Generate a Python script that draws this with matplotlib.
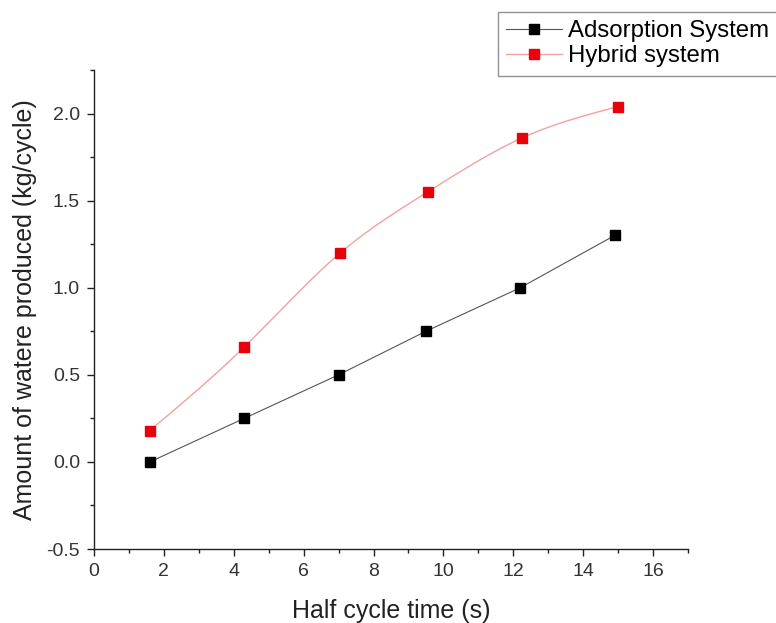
import numpy as np
import matplotlib
matplotlib.use("Agg")
import matplotlib.pyplot as plt
from matplotlib.ticker import MultipleLocator

plt.rcParams['font.family'] = ['Liberation Sans', 'DejaVu Sans']

x_ads = [1.6, 4.3, 7.0, 9.5, 12.2, 14.9]
y_ads = [0.0, 0.25, 0.50, 0.75, 1.0, 1.30]
x_hyb = [1.6, 4.3, 7.05, 9.55, 12.25, 15.0]
y_hyb = [0.18, 0.66, 1.20, 1.55, 1.86, 2.04]


def natural_spline(x, y, n=200):
    x = np.asarray(x, float); y = np.asarray(y, float)
    m = len(x)
    h = np.diff(x)
    A = np.zeros((m, m)); b = np.zeros(m)
    A[0, 0] = 1; A[-1, -1] = 1
    for i in range(1, m - 1):
        A[i, i - 1] = h[i - 1]
        A[i, i] = 2 * (h[i - 1] + h[i])
        A[i, i + 1] = h[i]
        b[i] = 3 * ((y[i + 1] - y[i]) / h[i] - (y[i] - y[i - 1]) / h[i - 1])
    c = np.linalg.solve(A, b)
    xs = np.linspace(x[0], x[-1], n)
    ys = np.empty_like(xs)
    for k, xv in enumerate(xs):
        i = min(np.searchsorted(x, xv, side='right') - 1, m - 2)
        bb = (y[i + 1] - y[i]) / h[i] - h[i] * (2 * c[i] + c[i + 1]) / 3
        d = (c[i + 1] - c[i]) / (3 * h[i])
        t = xv - x[i]
        ys[k] = y[i] + bb * t + c[i] * t ** 2 + d * t ** 3
    return xs, ys


fig = plt.figure(figsize=(7.76, 6.23), dpi=100)
ax = fig.add_axes([94 / 776, 1 - 549 / 623, (688 - 94) / 776, (549 - 70) / 623])

ax.plot(x_ads, y_ads, color='#555555', lw=0.8, zorder=2)
ax.plot(x_ads, y_ads, 's', color='black', ms=7, zorder=3)
xs, ys = natural_spline(x_hyb, y_hyb)
ax.plot(xs, ys, color='#f4a0a0', lw=1.0, zorder=2)
ax.plot(x_hyb, y_hyb, 's', color='#e8000b', ms=7, zorder=3)

ax.set_xlim(0, 17)
ax.set_ylim(-0.5, 2.25)
ax.xaxis.set_major_locator(MultipleLocator(2))
ax.xaxis.set_minor_locator(MultipleLocator(1))
ax.yaxis.set_major_locator(MultipleLocator(0.5))
ax.yaxis.set_minor_locator(MultipleLocator(0.25))
ax.yaxis.set_major_formatter(matplotlib.ticker.FormatStrFormatter('%.1f'))

for s in ['top', 'right']:
    ax.spines[s].set_visible(False)
for s in ['left', 'bottom']:
    ax.spines[s].set_color('#222222')
    ax.spines[s].set_linewidth(1.0)
ax.tick_params(which='major', length=5, width=1, direction='out', labelsize=14,
               colors='#222222', labelcolor='#333333', pad=5)
ax.tick_params(which='minor', length=3, width=1, direction='out', colors='#222222')

ax.set_xlabel('Half cycle time (s)', fontsize=18, color='#222222', labelpad=14)
ax.set_ylabel('Amount of watere produced (kg/cycle)', fontsize=18, color='#222222', labelpad=7)

h1, = ax.plot([], [], '-s', color='#555555', mfc='black', mec='black', ms=7, lw=0.8)
h2, = ax.plot([], [], '-s', color='#f4a0a0', mfc='#e8000b', mec='#e8000b', ms=7, lw=1.0)
fig.legend([h1, h2], ['Adsorption System', 'Hybrid system'],
           loc='upper left', bbox_to_anchor=(498 / 776, 1 - 12 / 623),
           fontsize=17.3, frameon=True, fancybox=False, edgecolor='#777777',
           handlelength=2.3, handletextpad=0.25, borderpad=0.35, labelspacing=0.12,
           borderaxespad=0)

fig.savefig('out.png', dpi=100)
